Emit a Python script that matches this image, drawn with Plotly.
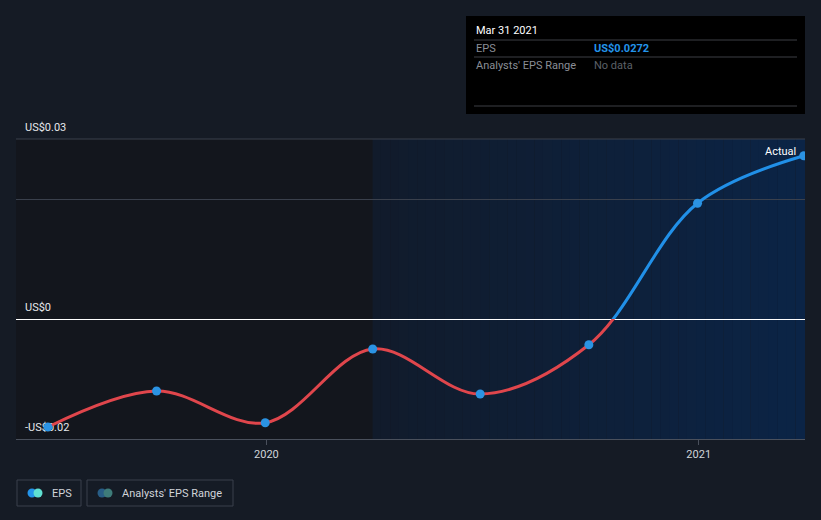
import plotly.graph_objects as go

# ---- data ----
dates = ["2019-06-30", "2019-09-30", "2019-12-31", "2020-03-31",
         "2020-06-30", "2020-09-30", "2020-12-31", "2021-03-31"]
eps = [-0.018, -0.012, -0.0173, -0.005, -0.0125, -0.0043, 0.0193, 0.0272]
ytick_vals = [-0.02, 0, 0.02, 0.03]
ytick_text = ["-US$0.02", "US$0", "", "US$0.03"]
x_range = ["2019-06-03", "2021-04-01"]
y_range = [-0.02, 0.03]
forecast_start = "2020-03-31"

# ---- geometry helpers (pixel -> paper) ----
W, H = 821, 520
L, R, T, B = 16, 16, 139, 81
PW, PH = W - L - R, H - T - B


def px(x):
    return (x - L) / PW


def py(y):
    return (H - B - y) / PH


BG = "#151b25"
RED = "#e0464c"
BLUE = "#2190e8"
GRID = "#3a404c"
FONT = "Roboto, 'Open Sans', sans-serif"

fig = go.Figure()

# invisible trace so the main subplot (axes, grid, tick labels) is drawn
fig.add_trace(go.Scatter(x=dates, y=eps, mode="none", xaxis="x", yaxis="y",
                         hoverinfo="skip", showlegend=False))

zf = (0 - y_range[0]) / (y_range[1] - y_range[0])

# red (negative) portion
fig.add_trace(go.Scatter(x=dates, y=eps, mode="lines", xaxis="x", yaxis="y2",
                         line=dict(color=RED, width=3, shape="spline", simplify=False),
                         hoverinfo="skip", showlegend=False))
# blue (positive) portion
fig.add_trace(go.Scatter(x=dates, y=eps, mode="lines", xaxis="x", yaxis="y3",
                         line=dict(color=BLUE, width=3, shape="spline", simplify=False),
                         hoverinfo="skip", showlegend=False))
# markers
fig.add_trace(go.Scatter(x=dates, y=eps, mode="markers", xaxis="x", yaxis="y4",
                         marker=dict(color="#2b93e3", size=9),
                         cliponaxis=True, hoverinfo="skip", showlegend=False))

shapes = []
shapes.append(dict(type="rect", xref="x", yref="paper", x0=x_range[0], x1=forecast_start,
                   y0=0, y1=1, fillcolor="#13161d", line_width=0, layer="below"))
import datetime as _dt
d0 = _dt.date.fromisoformat(forecast_start)
d1 = _dt.date.fromisoformat(x_range[1])
n = 48
c0 = (0x11, 0x1b, 0x2b)
c1 = (0x0b, 0x24, 0x46)
span = (d1 - d0).days
for i in range(n):
    a = d0 + _dt.timedelta(days=span * i / n)
    b = d0 + _dt.timedelta(days=span * (i + 1) / n + 0.6)
    t = (i + 0.5) / n
    c = tuple(round(c0[k] + (c1[k] - c0[k]) * t) for k in range(3))
    shapes.append(dict(type="rect", xref="x", yref="paper", x0=a.isoformat(), x1=b.isoformat(),
                       y0=0, y1=1, fillcolor="#%02x%02x%02x" % c, line_width=0, layer="below"))

# top border line of plot
shapes.append(dict(type="line", xref="paper", yref="paper", x0=0, x1=1, y0=1, y1=1,
                   line=dict(color=GRID, width=1)))

# tooltip box
shapes.append(dict(type="rect", xref="paper", yref="paper", x0=px(466), x1=px(805),
                   y0=py(114), y1=py(16), fillcolor="#000000", line_width=0))
for yy in (40, 57, 106):
    shapes.append(dict(type="line", xref="paper", yref="paper", x0=px(474), x1=px(797),
                       y0=py(yy), y1=py(yy), line=dict(color="#3c3f45", width=1)))

# legend boxes
for (a, b) in ((17, 81), (87, 233)):
    shapes.append(dict(type="rect", xref="paper", yref="paper", x0=px(a), x1=px(b),
                       y0=py(506), y1=py(480), line=dict(color=GRID, width=1),
                       fillcolor="rgba(0,0,0,0)"))


def circ(cx, cy, r, color):
    return dict(type="circle", xref="paper", yref="paper", x0=px(cx - r), x1=px(cx + r),
                y0=py(cy + r), y1=py(cy - r), fillcolor=color, line_width=0)


shapes += [circ(32, 493, 4.5, "#2394ea"), circ(38, 493, 4.5, "#5fe0d2"),
           circ(102, 493, 4.5, "#285d86"), circ(108, 493, 4.5, "#3e7c7a")]

annotations = [
    dict(text="Mar 31 2021", x=px(474), y=py(30), xanchor="left", yanchor="middle",
         font=dict(color="#ffffff", size=11, family=FONT)),
    dict(text="EPS", x=px(474), y=py(48), xanchor="left", yanchor="middle",
         font=dict(color="#8a8e96", size=11, family=FONT)),
    dict(text="<b>US$0.0272</b>", x=px(592), y=py(48), xanchor="left", yanchor="middle",
         font=dict(color="#2394ea", size=11, family=FONT)),
    dict(text="Analysts' EPS Range", x=px(474), y=py(65), xanchor="left", yanchor="middle",
         font=dict(color="#8a8e96", size=11, family=FONT)),
    dict(text="No data", x=px(592), y=py(65), xanchor="left", yanchor="middle",
         font=dict(color="#5c6068", size=11, family=FONT)),
    dict(text="Actual", x=px(798), y=py(151), xanchor="right", yanchor="middle",
         font=dict(color="#ffffff", size=11, family=FONT)),
    dict(text="EPS", x=px(50), y=py(493), xanchor="left", yanchor="middle",
         font=dict(color="#d0d4da", size=11, family=FONT)),
    dict(text="Analysts' EPS Range", x=px(120), y=py(493), xanchor="left", yanchor="middle",
         font=dict(color="#d0d4da", size=11, family=FONT)),
]
for a in annotations:
    a.update(xref="paper", yref="paper", showarrow=False)

hidden = dict(visible=False, showgrid=False, zeroline=False, fixedrange=True)

fig.update_layout(
    width=W, height=H,
    margin=dict(l=L, r=R, t=T, b=B),
    paper_bgcolor=BG, plot_bgcolor="rgba(0,0,0,0)",
    font=dict(family=FONT, color="#d0d4da", size=11),
    showlegend=False,
    xaxis=dict(range=x_range, type="date", dtick="M12", tick0="2020-01-01", tickformat="%Y",
               showgrid=False, zeroline=False, showline=True, linecolor="#4a505c", linewidth=1,
               ticks="outside", ticklen=5, tickcolor="#4a505c",
               tickfont=dict(size=11, color="#d0d4da")),
    yaxis=dict(range=y_range, domain=[0, 1], tickvals=ytick_vals, ticktext=ytick_text,
               ticklabelposition="inside top", ticklabelstandoff=6, ticklabelshift=-4,
               ticklabeloverflow="allow",
               showgrid=True, gridcolor=GRID, gridwidth=1,
               zeroline=True, zerolinecolor="#ffffff", zerolinewidth=1,
               showline=False, ticks="", tickfont=dict(size=11, color="#e6e8eb")),
    yaxis2=dict(range=[y_range[0], 0], domain=[0, zf], anchor="x", **hidden),
    yaxis3=dict(range=[0, y_range[1]], domain=[zf, 1], anchor="x", **hidden),
    yaxis4=dict(range=y_range, domain=[0, 1], anchor="x", **hidden),
    shapes=shapes,
    annotations=annotations,
)

fig.write_html("out.html")
